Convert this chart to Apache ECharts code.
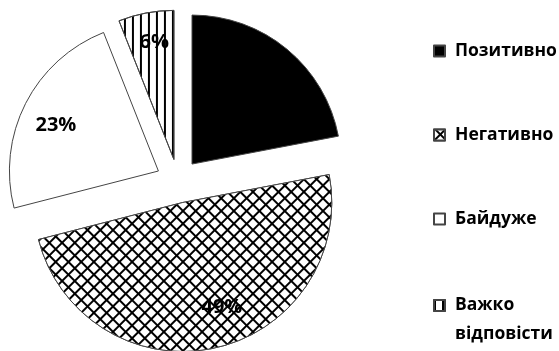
<!DOCTYPE html>
<html>
<head>
<meta charset="utf-8">
<script src="https://cdn.jsdelivr.net/npm/echarts@6/dist/echarts.min.js"></script>
<style>
  html, body { margin: 0; padding: 0; background: #fff; }
  #chart { width: 559px; height: 351px; }
</style>
</head>
<body>
<div id="chart"></div>
<script>
// дані з діаграми
var categories = ["Позитивно", "Негативно", "Байдуже", "Важко відповісти"];
var values = [22, 49, 23, 6];

var myChart = echarts.init(document.getElementById("chart"));

// заливки секторів
var fills = [
  { color: "#000" },
  {
    color: "#000",
    decal: {
      symbol: "rect",
      symbolSize: 1,
      color: "#fff",
      dashArrayX: [6.5, 2],
      dashArrayY: [6.5, 2],
      rotation: Math.PI / 4,
    },
  },
  { color: "#fff" },
  {
    color: "#fff",
    decal: {
      symbol: "rect",
      symbolSize: 1,
      color: "#000",
      dashArrayX: [2, 5.5],
      dashArrayY: [10, 0],
      rotation: 0,
    },
  },
];
// зсув підписів (dx, dy), як у оригіналі
var labelShift = [[0, 0], [14, -7], [0, 6], [2, -4]];

var pieData = categories.map(function (name, i) {
  return {
    name: name,
    value: values[i],
    selected: true,
    itemStyle: fills[i],
  };
});

var labelData = categories.map(function (name, i) {
  return { name: name, value: values[i], selected: true };
});

var legendText = {
  fontFamily: "Open Sans",
  fontWeight: "bold",
  fontSize: 17.5,
  color: "#000",
  padding: [0, 0, 0, 5],
  lineHeight: 22,
};

var option = {
  animation: false,
  legend: [
    {
      orient: "vertical",
      left: 433,
      top: 40,
      padding: 0,
      itemGap: 62,
      itemWidth: 11,
      itemHeight: 11,
      icon: "rect",
      selectedMode: false,
      textStyle: legendText,
      data: categories.slice(0, 3),
    },
    {
      // квадрат угорі високої іконки, щоб він стояв біля першого рядка
      orient: "vertical",
      left: 433,
      top: 291,
      padding: 0,
      itemWidth: 11,
      itemHeight: 40,
      icon: "path://M0,0L11,0L11,11L0,11Z M0,40",
      selectedMode: false,
      formatter: function (name) {
        return name.replace(" ", "\n");
      },
      textStyle: Object.assign({}, legendText, { lineHeight: 29 }),
      data: categories.slice(3),
    },
  ],
  series: [
    {
      name: "main",
      type: "pie",
      center: [178, 181],
      radius: 149,
      startAngle: 90,
      clockwise: true,
      selectedMode: "multiple",
      selectedOffset: 22,
      avoidLabelOverlap: false,
      silent: true,
      label: { show: false },
      labelLine: { show: false },
      itemStyle: { borderColor: "#444", borderWidth: 1 },
      data: pieData,
    },
    {
      name: "labels",
      type: "pie",
      center: [178, 181],
      radius: [75, 149],
      startAngle: 90,
      clockwise: true,
      selectedMode: "multiple",
      selectedOffset: 22,
      avoidLabelOverlap: false,
      silent: true,
      itemStyle: { color: "rgba(0,0,0,0)" },
      label: {
        show: true,
        position: "inside",
        formatter: "{c}%",
        fontFamily: "Open Sans",
        fontWeight: "bold",
        fontSize: 20,
        color: "#000",
      },
      labelLayout: function (params) {
        var s = labelShift[params.dataIndex];
        return { dx: s[0], dy: s[1] };
      },
      labelLine: { show: false },
      data: labelData,
    },
  ],
};

myChart.setOption(option);
</script>
</body>
</html>
